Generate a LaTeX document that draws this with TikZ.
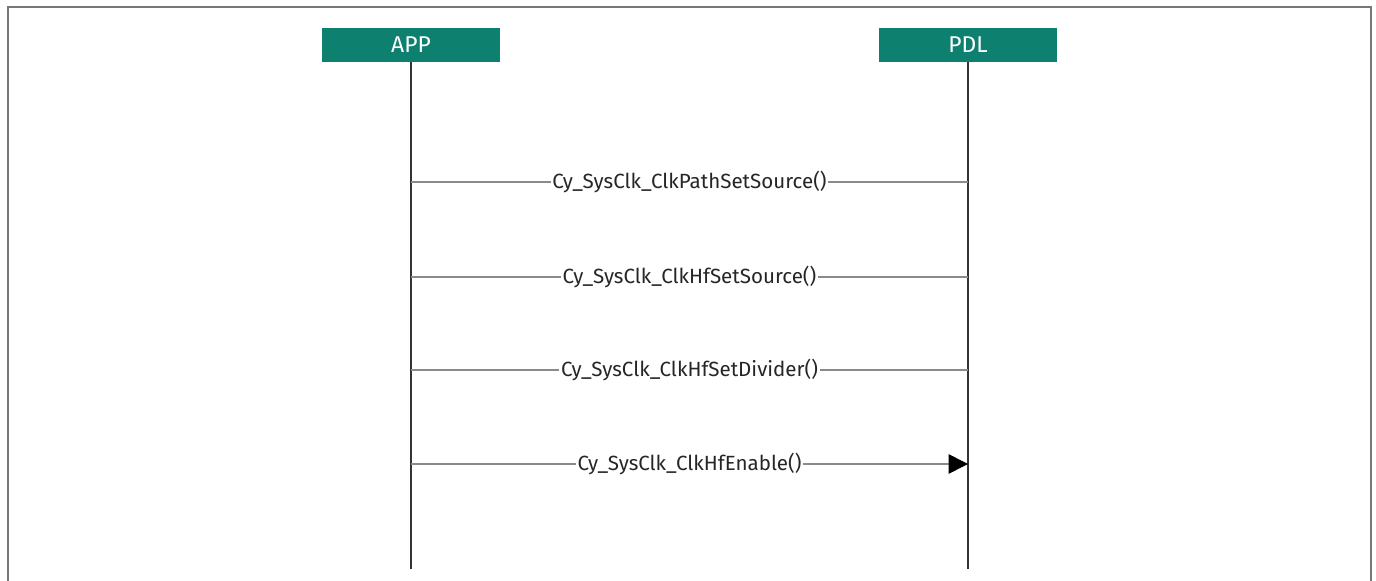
\documentclass[tikz,border=0pt]{standalone}
\usepackage{fontspec}
\setmainfont{Fira Sans}
\usetikzlibrary{arrows.meta}
\definecolor{headteal}{HTML}{0E8070}
\definecolor{framegray}{HTML}{777777}
\definecolor{msggray}{HTML}{8A8A8A}
\tikzset{
  header/.style={fill=headteal,text=white,minimum width=3.56cm,minimum height=0.68cm,inner sep=0pt,font=\fontsize{13}{15}\selectfont},
  lifeline/.style={draw=black!80,line width=0.9pt},
  msg/.style={draw=msggray,line width=0.9pt},
  msglabel/.style={fill=white,inner sep=1pt,font=\fontsize{11.7}{13}\selectfont,text=black!85}
}
\begin{document}
\begin{tikzpicture}[x=0.02cm,y=-0.02cm]
\useasboundingbox (0,0) rectangle (1376,581);
\draw[framegray,line width=1.1pt] (8,581) -- (8,7) -- (1371,7) -- (1371,581);

\node[header] (app) at (411,45) {APP};
\node[header] (pdl) at (968,45) {PDL};
\coordinate (append) at (411,569);
\coordinate (pdlend) at (968,569);
\draw[lifeline] (app.south) -- (append);
\draw[lifeline] (pdl.south) -- (pdlend);

\coordinate (a1) at (411,182); \coordinate (p1) at (968,182);
\coordinate (a2) at (411,277); \coordinate (p2) at (968,277);
\coordinate (a3) at (411,370); \coordinate (p3) at (968,370);
\coordinate (a4) at (411,464); \coordinate (p4) at (968,464);

\draw[msg] (a1) -- (p1) node[msglabel,midway] (m1) {Cy\_SysClk\_ClkPathSetSource()};
\draw[msg] (a2) -- (p2) node[msglabel,midway] (m2) {Cy\_SysClk\_ClkHfSetSource()};
\draw[msg] (a3) -- (p3) node[msglabel,midway] (m3) {Cy\_SysClk\_ClkHfSetDivider()};
\draw[msg,-{Triangle[length=11pt,width=11pt,fill=black,color=black]}] (a4) -- (p4) node[msglabel,midway] (m4) {Cy\_SysClk\_ClkHfEnable()};

\end{tikzpicture}
\end{document}
